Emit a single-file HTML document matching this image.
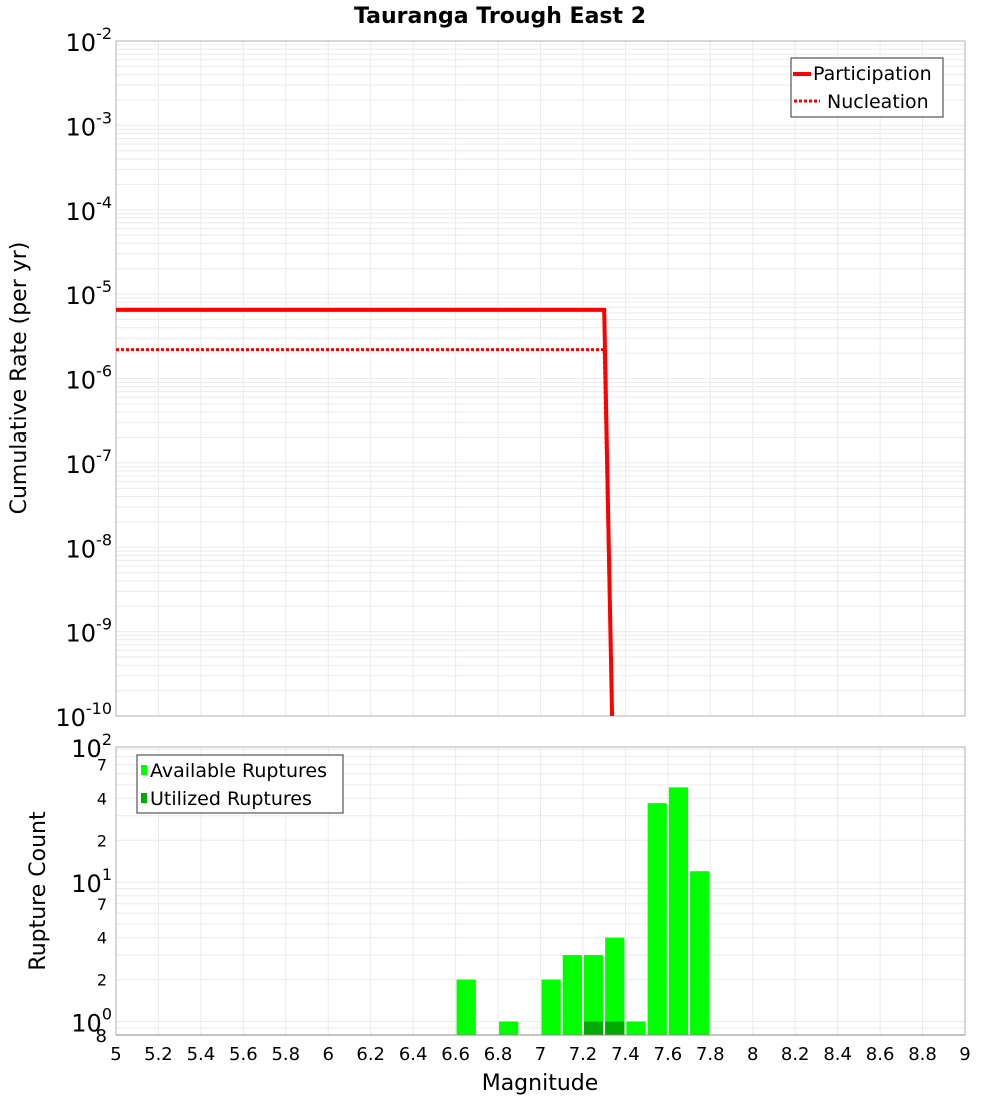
<!DOCTYPE html>
<html><head><meta charset="utf-8"><style>
body{margin:0;background:#fff;font-family:"Liberation Sans","DejaVu Sans",sans-serif}
svg text{font-family:"DejaVu Sans","Liberation Sans",sans-serif}
</style></head><body>
<svg id="c" width="1000" height="1100" xmlns="http://www.w3.org/2000/svg"></svg>
<script>
const magTicks=[5,5.2,5.4,5.6,5.8,6,6.2,6.4,6.6,6.8,7,7.2,7.4,7.6,7.8,8,8.2,8.4,8.6,8.8,9];
const partMags=[5,7.3,7.345];
const partRates=[6.5e-6,6.5e-6,1e-11];
const nuclMags=[5,7.3,7.345];
const nuclRates=[2.2e-6,2.2e-6,1e-11];
const binStarts=[6.6,6.8,7.0,7.1,7.2,7.3,7.4,7.5,7.6,7.7];
const availCounts=[2,1,2,3,3,4,1,37,48,12];
const utilStarts=[7.2,7.3];
const utilCounts=[1,1];
const topExps=[-2,-3,-4,-5,-6,-7,-8,-9,-10];
const botTickVals=[70,40,20,7,4,2];
const botTickLabels=["7","4","2","7","4","2"];

const svg=document.getElementById('c');
const NS='http://www.w3.org/2000/svg';
function el(t,a,p){const e=document.createElementNS(NS,t);for(const k in a)e.setAttribute(k,a[k]);(p||svg).appendChild(e);return e;}
const X0=116,X1=965;
const x=m=>X0+(m-5)/4*(X1-X0);
const T0=41,T1=716;
const yT=v=>T0+(-2-Math.log10(v))/8*(T1-T0);
const B0=747,B1=1035,BL=Math.log10(0.8),BH=1.971;
const yB=v=>B1-(Math.log10(v)-BL)/(BH-BL)*(B1-B0);

// title
let t=el('text',{x:500,y:23,'text-anchor':'middle','font-size':22,'font-weight':'bold'});t.textContent='Tauranga Trough East 2';


// top grid
const gt=el('g',{});
for(let e=-10;e<-2;e++)for(let k=1;k<10;k++){const y=yT(k*Math.pow(10,e));el('line',{x1:X0,x2:X1,y1:y,y2:y,stroke:'#ebebeb','stroke-width':1},gt);}
magTicks.forEach(m=>{el('line',{x1:x(m),x2:x(m),y1:T0,y2:T1,stroke:'#ebebeb'},gt);el('line',{x1:x(m),x2:x(m),y1:B0,y2:B1,stroke:'#ebebeb'},gt);});
for(let e=-1;e<2;e++)for(let k=1;k<10;k++){const v=k*Math.pow(10,e);if(v<0.8||v>94)continue;const y=yB(v);el('line',{x1:X0,x2:X1,y1:y,y2:y,stroke:'#ebebeb'},gt);}

// top frame
let f=el('rect',{x:X0,y:T0,width:X1-X0,height:T1-T0,fill:'none',stroke:'#b0b0b0'});

// top y labels
topExps.forEach(e=>{const y=yT(Math.pow(10,e));const tx=el('text',{x:112,y:y+10,'text-anchor':'end','font-size':24});

const s1=el('tspan',{},tx);s1.textContent='10';const s2=el('tspan',{dy:-12,'font-size':16},tx);s2.textContent=String(e);});

let yl=el('text',{transform:'translate(26,378) rotate(-90)','text-anchor':'middle','font-size':22});yl.textContent='Cumulative Rate (per yr)';


// clip
const defs=el('defs',{});const cp=el('clipPath',{id:'ct'},defs);el('rect',{x:X0,y:T0,width:X1-X0,height:T1-T0},cp);
function path(ms,vs){return ms.map((m,i)=>(i?'L':'M')+x(m).toFixed(1)+','+yT(vs[i]).toFixed(1)).join('');}
let pn=el('path',{d:path(nuclMags,nuclRates),fill:'none',stroke:'#ff0000','stroke-width':3,'stroke-dasharray':'3,2','clip-path':'url(#ct)'});

let pp=el('path',{d:path(partMags,partRates),fill:'none',stroke:'#ff0000','stroke-width':4,'clip-path':'url(#ct)'});


// top legend
const lg=el('g',{});
el('rect',{x:791,y:58,width:152,height:59,fill:'#fff',stroke:'#333'},lg);
el('line',{x1:793,x2:811,y1:74,y2:74,stroke:'#f00','stroke-width':4},lg);
el('line',{x1:794,x2:820,y1:101,y2:101,stroke:'#f00','stroke-width':3,'stroke-dasharray':'3,2'},lg);
let l1=el('text',{x:813,y:80,'font-size':19},lg);l1.textContent='Participation';
let l2=el('text',{x:827,y:108,'font-size':19},lg);l2.textContent='Nucleation';

// bottom frame
let bf=el('rect',{x:X0,y:B0,width:X1-X0,height:B1-B0,fill:'none',stroke:'#b0b0b0'});

// bars
binStarts.forEach((m,i)=>{const r=el('rect',{x:x(m)+1,y:yB(availCounts[i]),width:x(m+0.1)-x(m)-2,height:B1-yB(availCounts[i]),fill:'#00ff00'});
});
utilStarts.forEach((m,i)=>{const r=el('rect',{x:x(m)+1,y:yB(utilCounts[i]),width:x(m+0.1)-x(m)-2,height:B1-yB(utilCounts[i]),fill:'#00aa00'});
});
el('line',{x1:X0,x2:X1,y1:B1,y2:B1,stroke:'#888'});

// bottom y labels
[[100,'2'],[10,'1'],[1,'0']].forEach(([v,e])=>{const y=v===100?B0:yB(v);const tx=el('text',{x:112,y:y+10,'text-anchor':'end','font-size':24});

const s1=el('tspan',{},tx);s1.textContent='10';const s2=el('tspan',{dy:-12,'font-size':16},tx);s2.textContent=e;});
botTickVals.forEach((v,i)=>{const tx=el('text',{x:107,y:yB(v)+6,'text-anchor':'end','font-size':16});tx.textContent=botTickLabels[i];
});
let e8=el('text',{x:107,y:1042,'text-anchor':'end','font-size':18});e8.textContent='8';

let yl2=el('text',{transform:'translate(45,891) rotate(-90)','text-anchor':'middle','font-size':22});yl2.textContent='Rupture Count';


// bottom legend
const lg2=el('g',{});
el('rect',{x:137,y:755,width:206,height:58,fill:'#fff',stroke:'#333'},lg2);
el('rect',{x:141,y:765,width:6,height:10,fill:'#00ff00'},lg2);
el('rect',{x:141,y:793,width:6,height:10,fill:'#00aa00'},lg2);
let a1=el('text',{x:150,y:777,'font-size':19},lg2);a1.textContent='Available Ruptures';
let a2=el('text',{x:150,y:805,'font-size':19},lg2);a2.textContent='Utilized Ruptures';

// x ticks
magTicks.forEach(m=>{const tx=el('text',{x:x(m),y:1060,'text-anchor':'middle','font-size':18});tx.textContent=String(m);
});
let xl=el('text',{x:540,y:1090,'text-anchor':'middle','font-size':22});xl.textContent='Magnitude';

</script>
</body></html>
